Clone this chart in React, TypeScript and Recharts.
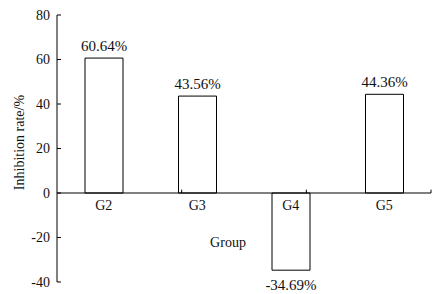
import {
  Bar,
  BarChart,
  LabelList,
  ReferenceDot,
  ReferenceLine,
  XAxis,
  YAxis,
} from "recharts";

const groups = ["G2", "G3", "G4", "G5"];
const rates = [60.64, 43.56, -34.69, 44.36];
const yTicks = [-40, -20, 0, 20, 40, 60, 80];
const bandEdges = [1, 2, 3, 4];

const data = groups.map((g, i) => ({ group: g, rate: rates[i] }));

const FONT = "'Liberation Serif', 'Times New Roman', serif";

// value label: above positive bars, below negative ones
function RateLabel(props: any) {
  const { x, y, width, height, value } = props;
  const neg = Number(value) < 0;
  const cx = Number(x) + Number(width) / 2;
  const edge = neg ? Math.max(y, y + height) : Math.min(y, y + height);
  return (
    <text
      x={cx}
      y={neg ? edge + 20 : edge - 7}
      textAnchor="middle"
      fill="#111"
      fontSize={15}
      fontFamily={FONT}
    >
      {`${Number(value).toFixed(2)}%`}
    </text>
  );
}

export default function App() {
  return (
    <div style={{ position: "absolute", left: 0, top: 0, background: "#fff" }}>
      <BarChart
        width={443}
        height={294}
        data={data}
        margin={{ top: 15, right: 12, bottom: 12, left: 0 }}
        style={{ fontFamily: FONT }}
      >
        <XAxis xAxisId="cat" dataKey="group" type="category" hide />
        <XAxis xAxisId="num" type="number" domain={[0, 4]} hide />
        <YAxis
          domain={[-40, 80]}
          ticks={yTicks}
          interval={0}
          width={57}
          stroke="#000"
          tickSize={-4}
          tickMargin={11}
          tick={{ fill: "#111", fontSize: 14, fontFamily: FONT }}
          label={{
            value: "Inhibition rate/%",
            angle: -90,
            position: "center",
            dx: -9,
            dy: -6,
            fill: "#111",
            fontSize: 14,
            fontFamily: FONT,
          }}
        />
        <Bar
          xAxisId="cat"
          dataKey="rate"
          barSize={38}
          fill="#fff"
          stroke="#000"
          strokeWidth={1}
          isAnimationActive={false}
        >
          <LabelList dataKey="rate" content={RateLabel} />
        </Bar>
        <ReferenceLine xAxisId="cat" y={0} stroke="#000" strokeWidth={1} />
        {bandEdges.map((e) => (
          <ReferenceLine
            key={e}
            xAxisId="num"
            segment={[
              { x: e, y: 0 },
              { x: e, y: 1.5 },
            ]}
            stroke="#000"
          />
        ))}
        {groups.map((g) => (
          <ReferenceDot
            key={g}
            xAxisId="cat"
            x={g}
            y={0}
            r={0}
            fill="none"
            stroke="none"
            label={{
              value: g,
              position: "bottom",
              offset: 7,
              fill: "#111",
              fontSize: 14,
              fontFamily: FONT,
            }}
          />
        ))}
        <text
          x={228}
          y={247}
          textAnchor="middle"
          fill="#111"
          fontSize={14}
          fontFamily={FONT}
        >
          Group
        </text>
      </BarChart>
    </div>
  );
}
